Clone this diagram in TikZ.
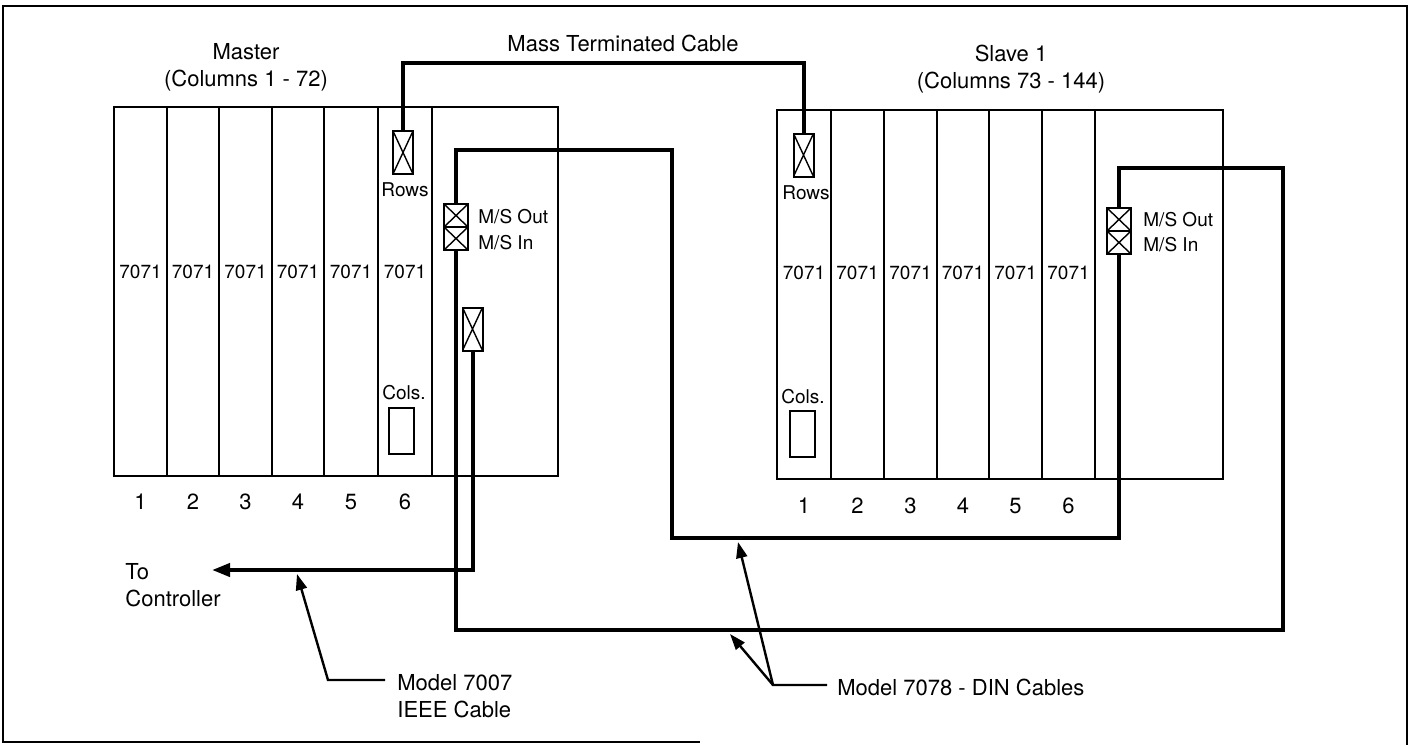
\documentclass[tikz,border=0pt]{standalone}
\usepackage{fontspec}
\setmainfont{TeX Gyre Heros}
\usetikzlibrary{arrows.meta}

\begin{document}
\begin{tikzpicture}[x=0.5pt, y=-0.5pt,
    chassis/.style={line width=1pt},
    cable/.style={line width=2pt},
    pointer/.style={line width=1.2pt},
    biglbl/.style={font=\fontsize{11}{13.5}\selectfont, inner sep=0pt},
    smalllbl/.style={font=\fontsize{9.5}{11}\selectfont, inner sep=0pt},
    conn/.style={draw, line width=1pt, inner sep=0pt, minimum width=10pt, minimum height=21.5pt,
        path picture={\draw[line width=0.7pt] (path picture bounding box.north west) -- (path picture bounding box.south east)
            (path picture bounding box.north east) -- (path picture bounding box.south west);}},
    mscell/.style={conn, minimum width=12pt, minimum height=11.5pt},
    colbox/.style={draw, line width=1pt, inner sep=0pt, minimum width=12.5pt, minimum height=23pt}]
    \useasboundingbox (0,0) rectangle (1414,745);

    % Outer frame
    \draw[line width=0.7pt] (700,742) -- (3,742) -- (3,6) -- (1407,6) -- (1407,745);

    % Master chassis
    \draw[chassis] (114,107) rectangle (558,476);
    \foreach \x in {167,219,272,324,378,432}
        \draw[chassis] (\x,107) -- (\x,476);
    \node[biglbl, align=center] (mastlbl) at (246,67) {Master\\(Columns 1 - 72)};
    \foreach \xc [count=\i] in {140.5,193,245.5,298,351,405} {
        \node[smalllbl] (m\i) at (\xc,272) {7071};
        \node[biglbl] (mn\i) at (\xc,502) {\i};
    }

    % Slave chassis
    \draw[chassis] (777,110) rectangle (1223,479);
    \foreach \x in {831,884,937,989,1042,1095}
        \draw[chassis] (\x,110) -- (\x,479);
    \node[biglbl, align=center] (slvlbl) at (1011,69) {Slave 1\\(Columns 73 - 144)};
    \foreach \xc [count=\i] in {804,857.5,910.5,963,1015.5,1068.5} {
        \node[smalllbl] (s\i) at (\xc,273) {7071};
        \node[biglbl] (sn\i) at (\xc,506) {\i};
    }

    % Master connectors
    \node[conn] (mrows) at (403,152.5) {};
    \node[smalllbl] at (405,190) {Rows};
    \node[mscell] (mmsout) at (456,215.5) {};
    \node[mscell] (mmsin) at (456,238.5) {};
    \node[smalllbl, anchor=west] at (478,217) {M/S Out};
    \node[smalllbl, anchor=west] at (478,243) {M/S In};
    \node[conn] (mieee) at (472.5,329) {};
    \node[smalllbl] at (404,393) {Cols.};
    \node[colbox] (mcols) at (401.5,431) {};

    % Slave connectors
    \node[conn] (srows) at (803.5,155) {};
    \node[smalllbl] at (806,193) {Rows};
    \node[mscell] (smsout) at (1119,219.5) {};
    \node[mscell] (smsin) at (1119,242.5) {};
    \node[smalllbl, anchor=west] at (1143,220) {M/S Out};
    \node[smalllbl, anchor=west] at (1143,245) {M/S In};
    \node[smalllbl] at (803,397) {Cols.};
    \node[colbox] (scols) at (802,433.5) {};

    % Mass terminated cable
    \coordinate (mtc) at (600,63);
    \draw[cable] (mrows.north) |- (mtc) -| (srows.north);
    \node[biglbl] (mtclbl) at (623,43) {Mass Terminated Cable};

    % DIN cables
    \coordinate (dinA1) at (672,150);
    \coordinate (dinA2) at (672,538);
    \draw[cable] (mmsout.north) |- (dinA1) -- (dinA2) -| (smsin.south);
    \coordinate (dinB1) at (1283,630);
    \coordinate (dinB2) at (1283,168);
    \draw[cable] (mmsin.south) |- (dinB1) -- (dinB2) -| (smsout.north);

    % IEEE cable to controller
    \coordinate (ctrl) at (212,570);
    \draw[cable, -{Triangle[length=9pt, width=6.5pt]}] (mieee.south) |- (ctrl);
    \node[biglbl, align=left, anchor=west] (ctrllbl) at (125,585) {To\\Controller};

    % Pointers
    \coordinate (e7007) at (385,680);
    \coordinate (k7007) at (328,680);
    \coordinate (t7007) at (297,574);
    \draw[pointer, -{Triangle[length=8pt, width=5.5pt]}] (e7007) -- (k7007) -- (t7007);
    \node[biglbl, align=left, anchor=north west] (lbl7007) at (397,674) {Model 7007\\IEEE Cable};

    \coordinate (e7078) at (827,685);
    \coordinate (k7078) at (773,685);
    \coordinate (ta7078) at (738,542);
    \coordinate (tb7078) at (730,634);
    \draw[pointer, -{Triangle[length=8pt, width=5.5pt]}] (e7078) -- (k7078) -- (ta7078);
    \draw[pointer, -{Triangle[length=8pt, width=5.5pt]}] (k7078) -- (tb7078);
    \node[biglbl, anchor=west] (lbl7078) at (837,687) {Model 7078 - DIN Cables};

\end{tikzpicture}
\end{document}
